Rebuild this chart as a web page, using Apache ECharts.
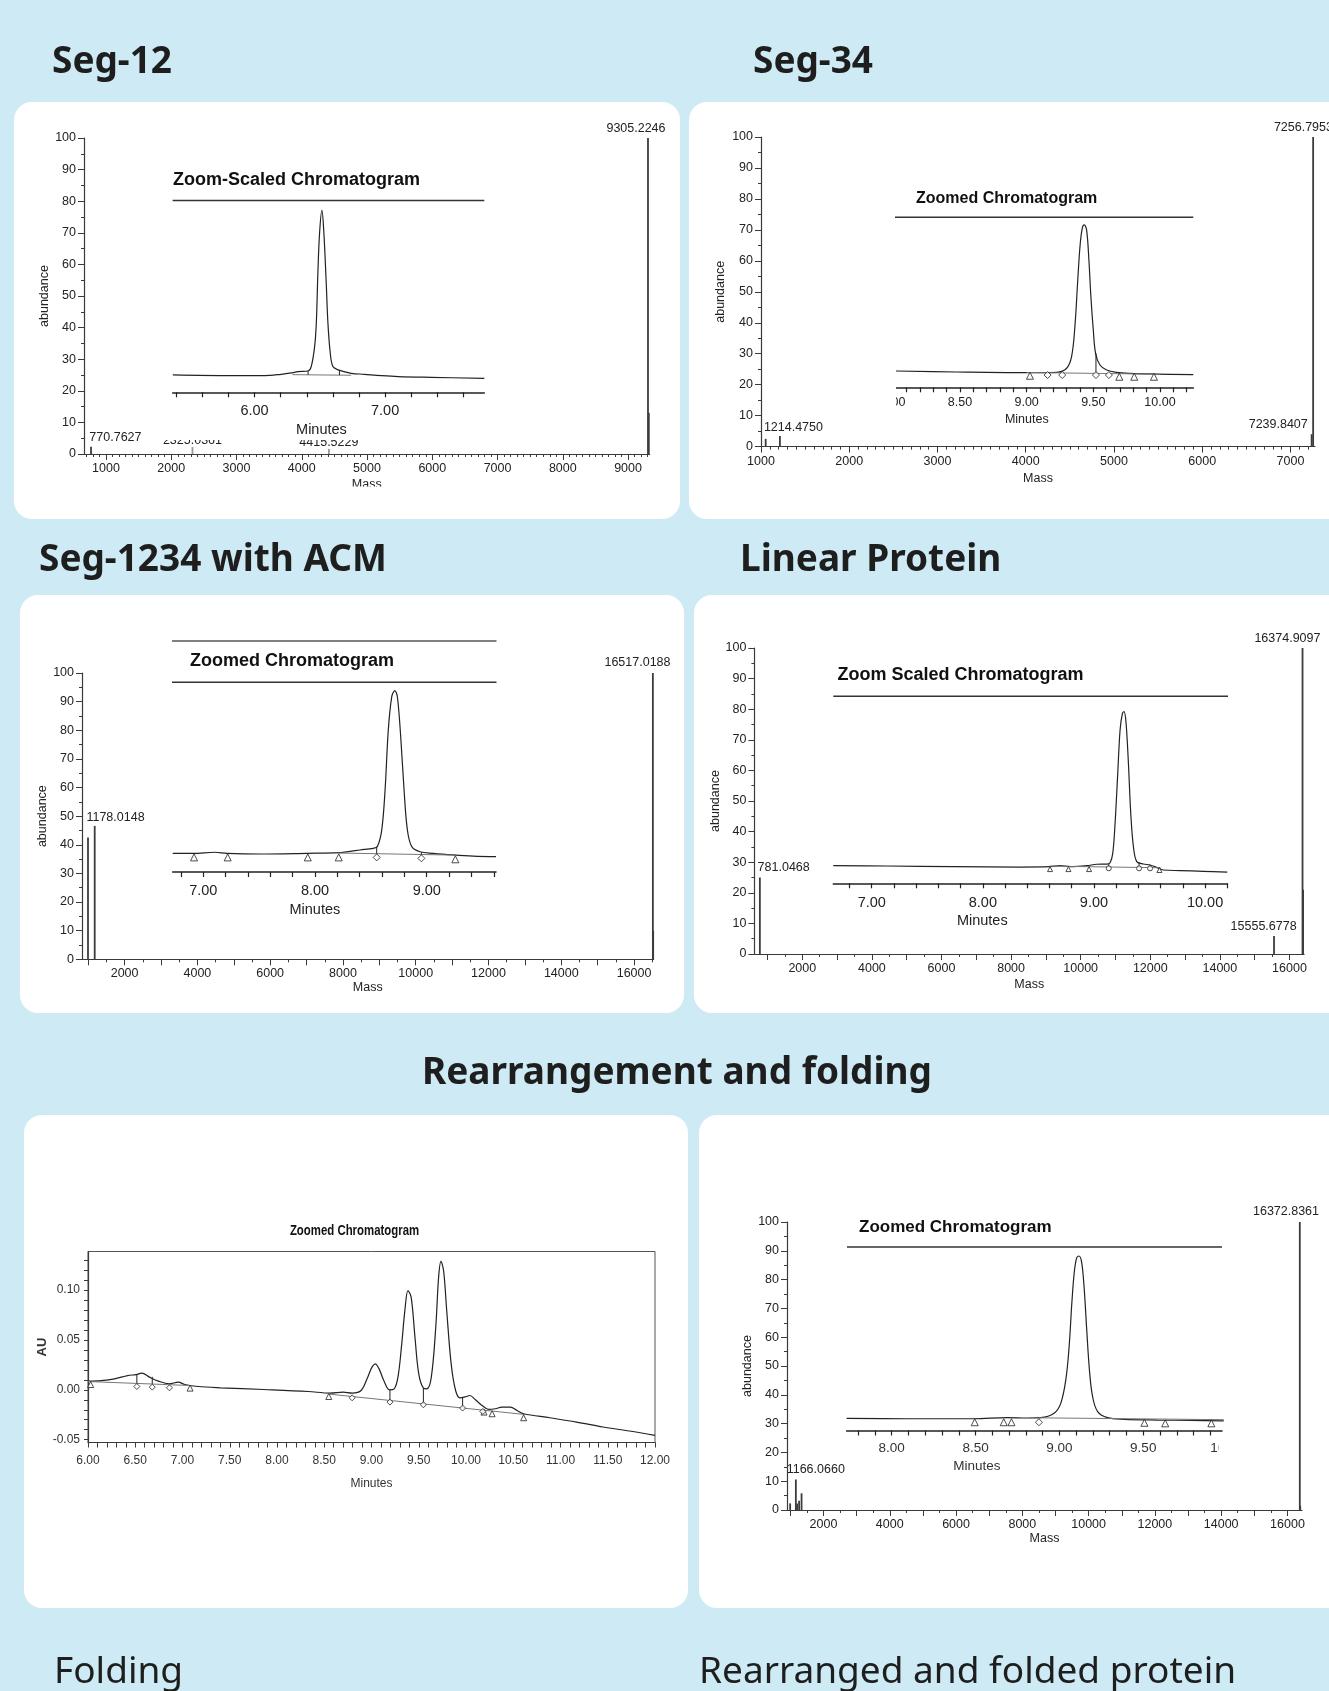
<!DOCTYPE html>
<html><head><meta charset="utf-8">
<script src="https://cdn.jsdelivr.net/npm/echarts@6.0.0/dist/echarts.min.js"></script>
<style>html,body{margin:0;padding:0;background:#cdeaf5;overflow:hidden}#chart{width:1329px;height:1691px}</style>
</head><body><div id="chart"></div>
<script>
// ================= DATA =================
// --- Seg-12 ---
const seg12Mass = [770.7627, 2325.0361, 4415.5229, 9305.2246, 9318];
const seg12Abundance = [2.3, 2.2, 1.6, 100, 13];
const seg12PeakText = ['770.7627', '2325.0361', '4415.5229', '9305.2246', ''];
const seg12MassLabels = [1000, 2000, 3000, 4000, 5000, 6000, 7000, 8000, 9000];
const seg12Time = [5.374, 5.82, 6.077, 6.204, 6.281, 6.332, 6.409, 6.434, 6.46, 6.473, 6.485, 6.498, 6.516, 6.531, 6.549, 6.562, 6.58, 6.60, 6.64, 6.66, 6.74, 6.84, 6.97, 7.10, 7.35, 7.76];
const seg12Signal = [9.05, 8.7, 8.7, 9.4, 10.1, 10.8, 11.1, 13.4, 23.8, 36.1, 62.2, 83.1, 94.9, 83.1, 57.0, 36.1, 20.4, 13.4, 11.7, 11.3, 9.9, 9.4, 8.7, 8.2, 7.8, 7.3];
const seg12MinuteLabels = [6.0, 7.0];
const seg12MinuteTicks = [5.4, 5.6, 5.8, 6.0, 6.2, 6.4, 6.6, 6.8, 7.0, 7.2, 7.4, 7.6];
const seg12BaseTime = [6.29, 6.74];
const seg12BaseSignal = [9.2, 8.9];
const seg12DropTime = [6.41, 6.65];
const seg12DropTop = [11.1, 11.5];
const seg12DropBottom = [9.1, 8.95];

// --- Seg-34 ---
const seg34Mass = [1053, 1214.4750, 7239.8407, 7256.7953];
const seg34Abundance = [2.5, 3.4, 4.0, 100];
const seg34PeakText = ['', '1214.4750', '7239.8407', '7256.7953'];
const seg34MassLabels = [1000, 2000, 3000, 4000, 5000, 6000, 7000];
const seg34Time = [8.02, 8.475, 8.975, 9.225, 9.30, 9.337, 9.362, 9.382, 9.40, 9.417, 9.432, 9.45, 9.467, 9.482, 9.50, 9.517, 9.55, 9.60, 9.675, 9.775, 9.975, 10.25];
const seg34Signal = [9.6, 9.0, 8.6, 8.8, 11.2, 18.0, 35.7, 61.2, 82.7, 93.5, 95.5, 92.5, 74.9, 53.3, 33.7, 20.0, 13.1, 10.2, 8.8, 8.2, 7.8, 7.4];
const seg34MinuteLabels = [8.0, 8.5, 9.0, 9.5, 10.0];
const seg34MinuteTicks = [8.1, 8.2, 8.3, 8.4, 8.5, 8.6, 8.7, 8.8, 8.9, 9.0, 9.1, 9.2, 9.3, 9.4, 9.5, 9.6, 9.7, 9.8, 9.9, 10.0, 10.1, 10.2];
const seg34TriTime = [9.025, 9.695, 9.807, 9.955];
const seg34TriSignal = [6.8, 6.2, 6.2, 6.2];
const seg34DiaTime = [9.157, 9.267, 9.52, 9.617];
const seg34DiaSignal = [7.2, 7.2, 7.2, 7.2];
const seg34BaseTime = [9.0, 10.0];
const seg34BaseSignal = [8.7, 7.7];
const seg34DropTime = [9.52];
const seg34DropTop = [20.0];
const seg34DropBottom = [8.0];

// --- Seg-1234 with ACM ---
const seg1234Mass = [994, 1178.0148, 16517.0188, 16530];
const seg1234Abundance = [42.5, 46.6, 100, 10];
const seg1234PeakText = ['', '1178.0148', '16517.0188', ''];
const seg1234MassLabels = [2000, 4000, 6000, 8000, 10000, 12000, 14000, 16000];
const seg1234Time = [6.726, 6.91, 7.105, 7.21, 7.51, 7.925, 8.224, 8.313, 8.403, 8.522, 8.558, 8.597, 8.627, 8.656, 8.687, 8.714, 8.737, 8.767, 8.797, 8.827, 8.866, 8.94, 9.059, 9.238, 9.417, 9.62];
const seg1234Signal = [9.84, 9.84, 10.4, 9.84, 9.5, 9.84, 10.2, 10.9, 11.6, 12.5, 13.4, 22.1, 43.2, 74.9, 92.4, 95.6, 92.4, 71.3, 43.2, 22.1, 13.4, 10.7, 9.84, 9.0, 8.4, 8.1];
const seg1234MinuteLabels = [7.0, 8.0, 9.0];
const seg1234MinuteTicks = [6.8, 7.0, 7.2, 7.4, 7.6, 7.8, 8.0, 8.2, 8.4, 8.6, 8.8, 9.0, 9.2, 9.4, 9.6];
const seg1234TriTime = [6.917, 7.218, 7.935, 8.212, 9.256];
const seg1234TriSignal = [7.7, 7.7, 7.7, 7.7, 6.7];
const seg1234DiaTime = [8.552, 8.952];
const seg1234DiaSignal = [7.7, 7.2];
const seg1234BaseTime = [8.21, 9.26];
const seg1234BaseSignal = [10.0, 8.9];
const seg1234DropTime = [8.552, 8.952];
const seg1234DropTop = [13.4, 10.4];
const seg1234DropBottom = [9.6, 9.2];

// --- Linear Protein ---
const linearMass = [781.0468, 15555.6778, 16374.9097, 16392];
const linearAbundance = [25, 5.9, 100, 21];
const linearPeakText = ['781.0468', '15555.6778', '16374.9097', ''];
const linearMassLabels = [2000, 4000, 6000, 8000, 10000, 12000, 14000, 16000];
const linearTime = [6.654, 7.135, 7.735, 8.335, 8.605, 8.695, 8.785, 8.935, 9.025, 9.115, 9.145, 9.169, 9.19, 9.214, 9.235, 9.256, 9.271, 9.289, 9.31, 9.331, 9.355, 9.385, 9.445, 9.505, 9.565, 9.625, 9.775, 9.985, 10.2];
const linearSignal = [9.4, 9.25, 8.9, 8.7, 8.9, 9.4, 8.9, 9.4, 10.2, 10.3, 11.0, 16.0, 32.1, 58.8, 82.0, 90.9, 91.8, 85.6, 64.2, 37.4, 19.6, 11.6, 10.3, 9.8, 8.5, 7.1, 6.8, 6.4, 6.0];
const linearMinuteLabels = [7.0, 8.0, 9.0, 10.0];
const linearMinuteTicks = [6.8, 7.0, 7.2, 7.4, 7.6, 7.8, 8.0, 8.2, 8.4, 8.6, 8.8, 9.0, 9.2, 9.4, 9.6, 9.8, 10.0, 10.2];
const linearTriTime = [8.605, 8.77, 8.956, 9.589];
const linearTriSignal = [7.6, 7.6, 7.6, 7.1];
const linearCircTime = [9.133, 9.406, 9.505];
const linearCircSignal = [8.0, 8.0, 8.0];
const linearBaseTime = [8.6, 9.6];
const linearBaseSignal = [9.2, 8.3];
const linearDropTime = [9.133, 9.406, 9.505];
const linearDropTop = [10.4, 11.3, 10.0];
const linearDropBottom = [9.0, 8.9, 8.7];

// --- Folding (UV chromatogram) ---
const foldTime = [6.00, 6.14, 6.28, 6.42, 6.51, 6.57, 6.65, 6.745, 6.86, 6.955, 7.025, 7.165, 7.40, 7.86, 8.33, 8.56, 8.70, 8.795, 8.89, 8.96, 9.005, 9.04, 9.08, 9.13, 9.19, 9.24, 9.28, 9.32, 9.353, 9.386, 9.42, 9.46, 9.50, 9.55, 9.586, 9.633, 9.68, 9.71, 9.735, 9.763, 9.796, 9.843, 9.89, 9.936, 10.006, 10.04, 10.10, 10.17, 10.24, 10.31, 10.38, 10.47, 10.54, 10.61, 10.89, 11.17, 11.45, 11.73, 12.00];
const foldAU = [0.0087, 0.0093, 0.011, 0.0143, 0.0153, 0.0167, 0.0127, 0.0087, 0.006, 0.0077, 0.0053, 0.0033, 0.002, 0.0003, -0.0017, -0.0033, -0.0023, -0.0033, -0.0007, 0.0127, 0.0227, 0.026, 0.021, 0.0093, 0.0, 0.001, 0.0127, 0.046, 0.0793, 0.0993, 0.0927, 0.0527, 0.016, 0.0017, 0.001, 0.0127, 0.0627, 0.1127, 0.1287, 0.1193, 0.0793, 0.026, -0.0007, -0.008, -0.0067, -0.0057, -0.010, -0.0157, -0.0197, -0.019, -0.0173, -0.0173, -0.0207, -0.024, -0.028, -0.0323, -0.0373, -0.0413, -0.0457];
const foldAULabels = [-0.05, 0.0, 0.05, 0.10];
const foldAUTicks = [-0.05, -0.04, -0.03, -0.02, -0.01, 0.0, 0.01, 0.02, 0.03, 0.04, 0.05, 0.06, 0.07, 0.08, 0.09, 0.10, 0.11, 0.12, 0.13];
const foldTriTime = [6.028, 7.08, 8.548, 10.19, 10.276, 10.61];
const foldTriAU = [0.0053, 0.0017, -0.0067, -0.0223, -0.024, -0.028];
const foldDiaTime = [6.517, 6.68, 6.862, 8.795, 9.195, 9.549, 9.964, 10.178];
const foldDiaAU = [0.0033, 0.0027, 0.002, -0.008, -0.0123, -0.015, -0.0183, -0.0217];
const foldBase1Time = [6.0, 7.08];
const foldBase1AU = [0.0083, 0.0043];
const foldBase2Time = [8.55, 10.62];
const foldBase2AU = [-0.0043, -0.0247];
const foldDropTime = [6.517, 6.68, 9.195, 9.549, 9.964];
const foldDropTop = [0.0153, 0.013, 0.0, 0.0017, -0.0075];
const foldDropBottom = [0.0065, 0.006, -0.0105, -0.014, -0.0182];

// --- Rearranged and folded protein ---
const refoldMass = [994, 1166.0660, 1203, 1264, 1338, 16372.8361, 16385];
const refoldAbundance = [2.3, 10.6, 2.3, 3.2, 5.8, 100, 1.5];
const refoldPeakText = ['', '1166.0660', '', '', '', '16372.8361', ''];
const refoldMassLabels = [2000, 4000, 6000, 8000, 10000, 12000, 14000, 16000];
const refoldTime = [7.731, 8.09, 8.489, 8.689, 8.808, 8.888, 8.968, 9.008, 9.038, 9.058, 9.074, 9.088, 9.102, 9.116, 9.132, 9.147, 9.163, 9.179, 9.198, 9.228, 9.287, 9.387, 9.587, 9.786, 9.98];
const refoldSignal = [6.6, 6.4, 6.4, 7.0, 6.8, 7.0, 9.4, 14.8, 27.5, 45.7, 69.3, 85.7, 93.8, 95.1, 92.0, 78.4, 54.8, 33.0, 18.4, 10.3, 7.0, 6.1, 5.7, 5.5, 5.2];
const refoldMinuteLabels = [8.0, 8.5, 9.0, 9.5, 10.0];
const refoldMinuteTicks = [7.8, 7.9, 8.0, 8.1, 8.2, 8.3, 8.4, 8.5, 8.6, 8.7, 8.8, 8.9, 9.0, 9.1, 9.2, 9.3, 9.4, 9.5, 9.6, 9.7, 9.8, 9.9];
const refoldTriTime = [8.495, 8.668, 8.714, 9.507, 9.631, 9.906];
const refoldTriSignal = [4.5, 4.5, 4.5, 4.2, 3.9, 3.9];
const refoldDiaTime = [8.878];
const refoldDiaSignal = [4.5];
const refoldBaseTime = [8.878, 9.98];
const refoldBaseSignal = [6.9, 5.9];

// ================= STYLE / LAYOUT =================
const FONT = '"Liberation Sans", Arial, Helvetica, sans-serif';
const HFONT = '"Noto Sans", "Open Sans", sans-serif';
const INK = '#222';
const AX = '#3a3a3a';

const grid = [], xAxis = [], yAxis = [], series = [], elements = [];

function ticksBetween(a, b, step, skipStep) {
  const out = [];
  for (let v = a; v <= b + 1e-6; v += step) {
    const r = Math.round(v);
    if (skipStep && r % skipStep === 0) continue;
    out.push(r);
  }
  return out;
}
function zip(a, b) { return a.map((v, i) => [v, b[i]]); }

function addSpectrum(c) {
  grid.push({ left: c.rect[0], top: c.rect[1], width: c.rect[2], height: c.rect[3] });
  const g = grid.length - 1;
  const xi = xAxis.length;
  xAxis.push({
    gridIndex: g, type: 'value', min: c.min, max: c.max, position: 'bottom',
    axisLine: { show: true, onZero: false, lineStyle: { color: AX, width: 1.2 } },
    axisTick: { show: true, length: 6, customValues: c.major, lineStyle: { color: AX, width: 1 } },
    axisLabel: { show: true, customValues: c.labels, fontSize: 12.5, color: INK, fontFamily: FONT, margin: 8, formatter: v => String(Math.round(v)) },
    splitLine: { show: false },
    name: 'Mass', nameLocation: 'middle', nameGap: c.nameGapX,
    nameTextStyle: { fontSize: 12.5, color: INK, fontFamily: FONT }
  });
  xAxis.push({
    gridIndex: g, type: 'value', min: c.min, max: c.max, position: 'bottom',
    axisLine: { show: false }, axisLabel: { show: false }, splitLine: { show: false },
    axisTick: { show: true, length: 3, customValues: c.minor, lineStyle: { color: AX, width: 1 } }
  });
  const yi = yAxis.length;
  yAxis.push({
    gridIndex: g, type: 'value', min: 0, max: 100, interval: 10, position: 'left',
    axisLine: { show: true, lineStyle: { color: AX, width: 1.2 } },
    axisTick: { show: true, length: 6, lineStyle: { color: AX } },
    minorTick: { show: true, splitNumber: 2, length: 3, lineStyle: { color: AX } },
    axisLabel: { fontSize: 12.5, color: INK, fontFamily: FONT, margin: 8 },
    splitLine: { show: false }, minorSplitLine: { show: false },
    name: 'abundance', nameLocation: 'middle', nameGap: c.nameGapY,
    nameTextStyle: { fontSize: 12.5, color: INK, fontFamily: FONT }
  });
  series.push({
    type: 'bar', xAxisIndex: xi, yAxisIndex: yi, barWidth: 1.8, z: 2, silent: true,
    data: c.mass.map((m, i) => {
      const off = c.offsets[i];
      return {
        value: [m, c.abund[i]],
        itemStyle: { color: (c.faint || []).includes(i) ? '#9a9a9a' : '#3c3c3c' },
        label: c.text[i] ? {
          show: true, position: 'top', distance: 0, align: 'center', verticalAlign: 'middle',
          offset: off, formatter: c.text[i], fontSize: 12.5, color: INK, fontFamily: FONT
        } : { show: false }
      };
    })
  });
}

function addInset(c) {
  grid.push({ left: c.rect[0], top: c.rect[1], width: c.rect[2], height: c.rect[3] });
  const g = grid.length - 1;
  const xi = xAxis.length;
  xAxis.push({
    gridIndex: g, type: 'value', min: c.min, max: c.max, position: 'bottom', z: 5,
    axisLine: { show: true, onZero: false, lineStyle: { color: INK, width: 1.5 } },
    axisTick: { show: true, length: 5, customValues: c.ticks, lineStyle: { color: INK, width: 1.2 } },
    axisLabel: { customValues: c.labels, formatter: v => v.toFixed(2), fontSize: c.fs, color: c.color || INK, margin: c.margin, fontFamily: FONT },
    splitLine: { show: false },
    name: 'Minutes', nameLocation: 'middle', nameGap: c.nameGap,
    nameTextStyle: { fontSize: c.fs, color: c.color || INK, fontFamily: FONT, padding: [0, c.namePad, 0, 0] }
  });
  const yi = yAxis.length;
  yAxis.push({ gridIndex: g, type: 'value', min: 0, max: 100, show: false });
  addTrace(xi, yi, c);
}

function addTrace(xi, yi, c) {
  series.push({
    type: 'line', xAxisIndex: xi, yAxisIndex: yi, z: 5, silent: true, showSymbol: false, smooth: 0.35,
    data: zip(c.time, c.signal), lineStyle: { color: INK, width: 1.2 }
  });
  (c.bases || []).forEach(b => series.push({
    type: 'line', xAxisIndex: xi, yAxisIndex: yi, z: 5, silent: true, showSymbol: false,
    data: zip(b[0], b[1]), lineStyle: { color: '#777', width: 1 }
  }));
  if (c.drops) c.drops[0].forEach((t, i) => series.push({
    type: 'line', xAxisIndex: xi, yAxisIndex: yi, z: 5, silent: true, showSymbol: false,
    data: [[t, c.drops[1][i]], [t, c.drops[2][i]]], lineStyle: { color: INK, width: 1 }
  }));
  (c.marks || []).forEach(m => series.push({
    type: 'scatter', xAxisIndex: xi, yAxisIndex: yi, z: 6, silent: true,
    symbol: m[2], symbolSize: m[3], data: zip(m[0], m[1]),
    itemStyle: { color: '#fff', borderColor: INK, borderWidth: 1 }
  }));
}

// ---- Panel 1: Seg-12 ----
addSpectrum({ rect: [84, 138, 565.6, 316], min: 663, max: 9330,
  labels: seg12MassLabels, major: seg12MassLabels, minor: ticksBetween(700, 9300, 100, 1000),
  mass: seg12Mass, abund: seg12Abundance, text: seg12PeakText, faint: [1, 2],
  offsets: [[24.4, -9.4], [0, -6.5], [0, -6.3], [-12, -9], [0, 0]], nameGapX: 24, nameGapY: 32.5 });
addInset({ rect: [172.6, 200.6, 311.7, 191.7], min: 5.372, max: 7.76,
  labels: seg12MinuteLabels, ticks: seg12MinuteTicks, time: seg12Time, signal: seg12Signal,
  fs: 14.5, margin: 11, nameGap: 30, namePad: 14,
  bases: [[seg12BaseTime, seg12BaseSignal]], drops: [seg12DropTime, seg12DropTop, seg12DropBottom] });

// ---- Panel 2: Seg-34 ----
addSpectrum({ rect: [761, 137, 554, 309.6], min: 1000, max: 7278,
  labels: seg34MassLabels, major: seg34MassLabels, minor: ticksBetween(1100, 7200, 100, 1000),
  mass: seg34Mass, abund: seg34Abundance, text: seg34PeakText,
  offsets: [[0, 0], [13.5, -8.8], [-33.4, -9.8], [-9.7, -9.3]], nameGapX: 25, nameGapY: 34 });
addInset({ rect: [893.3, 217.3, 300, 170], min: 8.0, max: 10.25,
  labels: seg34MinuteLabels, ticks: seg34MinuteTicks, time: seg34Time, signal: seg34Signal,
  fs: 12.5, margin: 9, nameGap: 26, namePad: 33,
  bases: [[seg34BaseTime, seg34BaseSignal]], drops: [seg34DropTime, seg34DropTop, seg34DropBottom],
  marks: [[seg34TriTime, seg34TriSignal, 'triangle', 7], [seg34DiaTime, seg34DiaSignal, 'diamond', 7]] });

// ---- Panel 3: Seg-1234 with ACM ----
addSpectrum({ rect: [82, 673, 571.6, 286.3], min: 829, max: 16537,
  labels: seg1234MassLabels, major: ticksBetween(1000, 16000, 1000), minor: ticksBetween(1500, 16500, 1000),
  mass: seg1234Mass, abund: seg1234Abundance, text: seg1234PeakText,
  offsets: [[0, 0], [20.8, -8.2], [-15.4, -10], [0, 0]], nameGapX: 22, nameGapY: 33 });
addInset({ rect: [172.7, 682.3, 323.3, 189.7], min: 6.726, max: 9.62,
  labels: seg1234MinuteLabels, ticks: seg1234MinuteTicks, time: seg1234Time, signal: seg1234Signal,
  fs: 14.5, margin: 11, nameGap: 30, namePad: 39,
  bases: [[seg1234BaseTime, seg1234BaseSignal]], drops: [seg1234DropTime, seg1234DropTop, seg1234DropBottom],
  marks: [[seg1234TriTime, seg1234TriSignal, 'triangle', 7], [seg1234DiaTime, seg1234DiaSignal, 'diamond', 7]] });

// ---- Panel 4: Linear Protein ----
addSpectrum({ rect: [754.4, 648, 549.7, 306], min: 624, max: 16420,
  labels: linearMassLabels, major: ticksBetween(1000, 16000, 1000), minor: ticksBetween(1500, 16000, 1000),
  mass: linearMass, abund: linearAbundance, text: linearPeakText,
  offsets: [[23.8, -10.2], [-10.4, -9.3], [-15.1, -9.7], [0, 0]], nameGapX: 24, nameGapY: 32 });
addInset({ rect: [833.3, 696.3, 394, 187], min: 6.654, max: 10.2,
  labels: linearMinuteLabels, ticks: linearMinuteTicks, time: linearTime, signal: linearSignal,
  fs: 14.5, margin: 12, nameGap: 30, namePad: 96,
  bases: [[linearBaseTime, linearBaseSignal]], drops: [linearDropTime, linearDropTop, linearDropBottom],
  marks: [[linearTriTime, linearTriSignal, 'triangle', 5], [linearCircTime, linearCircSignal, 'circle', 5]] });

// ---- Panel 5: Folding ----
grid.push({ left: 88, top: 1251.5, width: 567, height: 191, show: true, borderColor: '#555', borderWidth: 1, backgroundColor: 'transparent' });
const fg = grid.length - 1;
const fxi = xAxis.length;
xAxis.push({
  gridIndex: fg, type: 'value', min: 6, max: 12, interval: 0.5, position: 'bottom',
  axisLine: { show: true, onZero: false, lineStyle: { color: AX, width: 1.2 } },
  axisTick: { show: true, length: 5, lineStyle: { color: AX } },
  minorTick: { show: true, splitNumber: 5, length: 5, lineStyle: { color: AX } },
  axisLabel: { formatter: v => v.toFixed(2), fontSize: 12, color: '#333', margin: 12, fontFamily: FONT },
  splitLine: { show: false }, minorSplitLine: { show: false },
  name: 'Minutes', nameLocation: 'middle', nameGap: 35, nameTextStyle: { fontSize: 12, color: '#333', fontFamily: FONT }
});
const fyi = yAxis.length;
yAxis.push({
  gridIndex: fg, type: 'value', min: -0.0528, max: 0.1386, position: 'left',
  axisLine: { show: true, onZero: false, lineStyle: { color: AX, width: 1.2 } },
  axisTick: { show: true, length: 4, customValues: foldAUTicks, lineStyle: { color: AX } },
  axisLabel: { customValues: foldAULabels, formatter: v => v.toFixed(2), fontSize: 12, color: '#333', margin: 8, fontFamily: FONT },
  splitLine: { show: false },
  name: 'AU', nameLocation: 'middle', nameGap: 33, nameTextStyle: { fontSize: 13, fontWeight: 'bold', color: '#333', fontFamily: FONT }
});
addTrace(fxi, fyi, { time: foldTime, signal: foldAU,
  bases: [[foldBase1Time, foldBase1AU], [foldBase2Time, foldBase2AU]],
  drops: [foldDropTime, foldDropTop, foldDropBottom],
  marks: [[foldTriTime, foldTriAU, 'triangle', 6], [foldDiaTime, foldDiaAU, 'diamond', 6]] });

// ---- Panel 6: Rearranged and folded ----
addSpectrum({ rect: [787, 1222, 515, 288], min: 899, max: 16439,
  labels: refoldMassLabels, major: ticksBetween(1000, 16000, 1000), minor: ticksBetween(1500, 16000, 1000),
  mass: refoldMass, abund: refoldAbundance, text: refoldPeakText,
  offsets: [[0, 0], [19.9, -9.5], [0, 0], [0, 0], [0, 0], [-13.8, -10.3], [0, 0]], nameGapX: 22, nameGapY: 31 });
addInset({ rect: [846.6, 1247, 380.5, 183.5], min: 7.731, max: 10.0,
  labels: refoldMinuteLabels, ticks: refoldMinuteTicks, time: refoldTime, signal: refoldSignal,
  fs: 13.5, margin: 11, nameGap: 29, namePad: 120, color: '#333',
  bases: [[refoldBaseTime, refoldBaseSignal]],
  marks: [[refoldTriTime, refoldTriSignal, 'triangle', 7], [refoldDiaTime, refoldDiaSignal, 'diamond', 7]] });

// ---- decorations: cards, headings, inset titles ----
function rect(x, y, w, h, z, r) { elements.push({ type: 'rect', silent: true, z: z, shape: { x, y, width: w, height: h, r: r || 0 }, style: { fill: '#fff' } }); }
function text(t, x, y, font, align, z, color, sx) {
  elements.push({ type: 'text', silent: true, z: z, x: x, y: y, scaleX: sx || 1,
    style: { text: t, font: font, fill: color || '#1e1e1e', align: align, verticalAlign: 'middle', textAlign: align, textVerticalAlign: 'middle' } });
}
function line(x1, y1, x2, y2, color, w, z) { elements.push({ type: 'line', silent: true, z: z, shape: { x1, y1, x2, y2 }, style: { stroke: color, lineWidth: w } }); }

rect(14, 102, 666, 417, -10, 18);
rect(689, 102, 660, 417, -10, 18);
rect(20, 595, 664, 418, -10, 18);
rect(694, 595, 660, 418, -10, 18);
rect(24, 1115, 664, 493, -10, 18);
rect(699, 1115, 660, 493, -10, 18);

const H = 'bold 37px ' + HFONT;
text('Seg-12', 52, 62, H, 'left', -5);
text('Seg-34', 753, 62, H, 'left', -5);
text('Seg-1234 with ACM', 39, 560.5, H, 'left', -5);
text('Linear Protein', 740, 560.5, H, 'left', -5);
text('Rearrangement and folding', 677, 1073, H, 'center', -5);
text('Folding', 54, 1672.5, '37px ' + HFONT, 'left', -5);
text('Rearranged and folded protein', 699, 1672.5, '37px ' + HFONT, 'left', -5);

// covers reproducing the cropped inset pictures
rect(150, 165, 350, 275, 3);
rect(320, 486.5, 100, 20, 3);
rect(866, 380, 30, 34, 7);
rect(1222.6, 1425, 10, 12, 7);
rect(1218.5, 1438, 30, 24, 7);

// inset titles / rules
text('Zoom-Scaled Chromatogram', 173, 180.5, 'bold 18px ' + FONT, 'left', 8, '#111');
line(172.6, 200.6, 484.3, 200.6, '#333', 1.5, 8);
text('Zoomed Chromatogram', 916, 199, 'bold 16px ' + FONT, 'left', 8, '#111');
line(895, 217.3, 1193.3, 217.3, '#333', 1.5, 8);
line(172, 641, 496.5, 641, '#808080', 2, 8);
text('Zoomed Chromatogram', 190, 661, 'bold 18px ' + FONT, 'left', 8, '#111');
line(172, 682.3, 496.5, 682.3, '#333', 1.5, 8);
text('Zoom Scaled Chromatogram', 837.5, 675, 'bold 18px ' + FONT, 'left', 8, '#111');
line(833.3, 696.3, 1228, 696.3, '#333', 1.5, 8);
text('Zoomed Chromatogram', 354.5, 1231, 'bold 15px ' + FONT, 'center', 8, '#111', 0.76);
text('Zoomed Chromatogram', 859, 1227.5, 'bold 17px ' + FONT, 'left', 8, '#111');
line(847, 1247, 1222, 1247, '#333', 1.5, 8);

const chart = echarts.init(document.getElementById('chart'), null, { width: 1329, height: 1691 });
chart.setOption({
  animation: false,
  backgroundColor: '#cdeaf5',
  grid, xAxis, yAxis, series,
  graphic: { elements }
});
</script></body></html>
